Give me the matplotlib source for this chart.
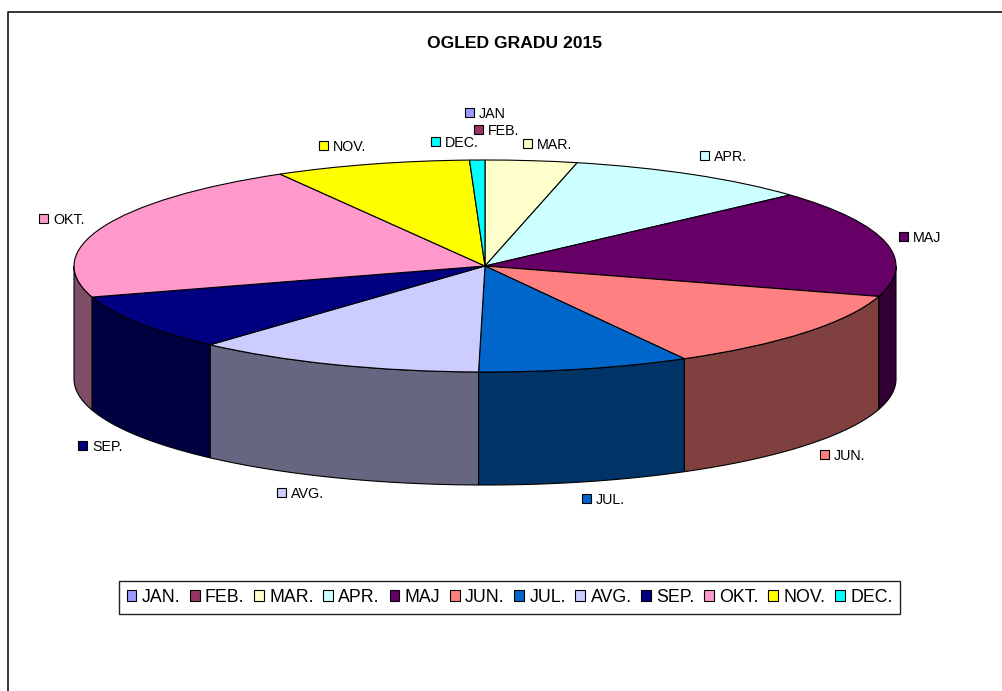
import matplotlib
matplotlib.use('Agg')
import matplotlib.pyplot as plt
import numpy as np
from matplotlib.lines import Line2D
from matplotlib.patches import Patch, Rectangle

W, H = 1003, 691

# podatki
months = ['JAN.', 'FEB.', 'MAR.', 'APR.', 'MAJ', 'JUN.', 'JUL.', 'AVG.', 'SEP.', 'OKT.', 'NOV.', 'DEC.']
point_labels = ['JAN', 'FEB.', 'MAR.', 'APR.', 'MAJ', 'JUN.', 'JUL.', 'AVG.', 'SEP.', 'OKT.', 'NOV.', 'DEC.']
shares = [0.0, 0.0, 3.6, 9.7, 16.3, 12.3, 8.3, 11.4, 8.6, 21.4, 7.7, 0.6]
colors = ['#9999FF', '#993366', '#FFFFCC', '#CCFFFF', '#660066', '#FF8080',
          '#0066CC', '#CCCCFF', '#000080', '#FF99CC', '#FFFF00', '#00FFFF']
side_colors = ['#4D4D80', '#4D1A33', '#808066', '#668080', '#330033', '#804040',
               '#003366', '#666680', '#000040', '#804D66', '#808000', '#008080']

# polozaj oznak v pikslih (levo zgoraj oznacevalca)
label_x = [465, 474, 523, 700, 899, 820, 582, 277, 78, 39, 319, 431]
label_y = [108, 125, 139, 151, 232, 450, 494, 488, 441, 214, 141, 137]

plt.rcParams['font.family'] = ['Liberation Sans', 'DejaVu Sans']

fig = plt.figure(figsize=(W / 100, H / 100), dpi=100)

# os je postavljena tako, da je -1..1 ravno elipsa torte
left, right, top, bottom, depth_bottom = 74, 896, 160, 372, 485
ax = fig.add_axes([left / W, 1 - depth_bottom / H, (right - left) / W, (depth_bottom - top) / H])
wedges, _ = ax.pie(shares, colors=colors, startangle=90, counterclock=False,
                   wedgeprops={'edgecolor': 'black', 'linewidth': 0.8, 'clip_on': False})
depth = (depth_bottom - bottom) / ((bottom - top) / 2)
ax.set_aspect('auto')
ax.set_xlim(-1, 1)
ax.set_ylim(-1 - depth, 1)

# stranica torte, vidna je samo sprednja polovica
ends = np.cumsum(shares) / np.sum(shares) * 360
starts = ends - np.array(shares) / np.sum(shares) * 360
for a, b, c in zip(starts, ends, side_colors):
    a2, b2 = max(a, 90), min(b, 270)
    if b2 <= a2:
        continue
    t = np.radians(np.linspace(a2, b2, 80))
    x = np.sin(t)
    y = np.cos(t)
    ax.fill(np.r_[x, x[::-1]], np.r_[y, y[::-1] - depth], facecolor=c,
            edgecolor='black', linewidth=0.8, clip_on=False, zorder=0.5)

# okvir grafikona, desno in spodaj je odrezan
fig.add_artist(Line2D([8 / W, 8 / W, 1], [0, 1 - 12 / H, 1 - 12 / H], color='black', linewidth=1.1))

fig.text(514.5 / W, 1 - 43 / H, 'OGLED GRADU 2015', ha='center', va='center',
         fontsize=12.6, fontweight='bold')

# oznake podatkov
for name, c, px, py in zip(point_labels, colors, label_x, label_y):
    fig.add_artist(Rectangle((px / W, 1 - (py + 9) / H), 9 / W, 9 / H, facecolor=c,
                             edgecolor='black', linewidth=0.8, transform=fig.transFigure))
    fig.text((px + 14) / W, 1 - (py + 6) / H, name, ha='left', va='center', fontsize=10.3)

handles = [Patch(facecolor=c, edgecolor='black', linewidth=0.8) for c in colors]
leg = fig.legend(handles, months, ncols=12, loc='center', bbox_to_anchor=(509.5 / W, 1 - 597 / H),
                 fontsize=12.8, handlelength=0.56, handleheight=0.56, handletextpad=0.29,
                 columnspacing=0.54, borderpad=0.45, borderaxespad=0, fancybox=False,
                 framealpha=1, edgecolor='#222222')
leg.get_frame().set_linewidth(1.0)

fig.savefig('out.png', dpi=100)
